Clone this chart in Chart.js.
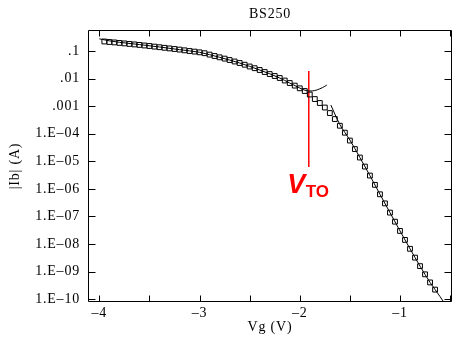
<!DOCTYPE html>
<html>
<head>
<meta charset="utf-8">
<script src="https://cdn.jsdelivr.net/npm/chart.js@4.4.1/dist/chart.umd.min.js"></script>
<style>
  html, body { margin: 0; padding: 0; background: #fff; }
  #wrap { width: 460px; height: 343px; }
</style>
</head>
<body>
<div id="wrap"><canvas id="c" width="460" height="343"></canvas></div>
<script>
// Measured |Ib| of the BS250 versus gate voltage
const gateVoltage = [
  -3.95, -3.90, -3.85, -3.80, -3.75, -3.70, -3.65, -3.60, -3.55, -3.50,
  -3.45, -3.40, -3.35, -3.30, -3.25, -3.20, -3.15, -3.10, -3.05, -3.00,
  -2.95, -2.90, -2.85, -2.80, -2.75, -2.70, -2.65, -2.60, -2.55, -2.50,
  -2.45, -2.40, -2.35, -2.30, -2.25, -2.20, -2.15, -2.10, -2.05, -2.00,
  -1.95, -1.90, -1.85, -1.80, -1.75, -1.70, -1.65, -1.60, -1.55, -1.50,
  -1.45, -1.40, -1.35, -1.30, -1.25, -1.20, -1.15, -1.10, -1.05, -1.00,
  -0.95, -0.90, -0.85, -0.80, -0.75, -0.70, -0.65
];
const drainCurrent = [
  0.2213, 0.2123, 0.2051, 0.1968, 0.1888, 0.1811, 0.1734, 0.1663, 0.1585, 0.1521,
  0.1445, 0.1374, 0.1306, 0.1242, 0.1183, 0.1125, 0.1059, 0.1000, 0.0951, 0.0897,
  0.0832, 0.0740, 0.0659, 0.0590, 0.0530, 0.0471, 0.0416, 0.0367, 0.0318, 0.0274,
  0.0238, 0.0205, 0.0173, 0.0146, 0.0124, 0.0105, 0.00851, 0.00690, 0.00556, 0.00444,
  0.00354, 0.00264, 0.00181, 0.00130, 8.91e-4, 5.62e-4, 3.41e-4, 1.95e-4, 1.09e-4, 5.66e-5,
  2.78e-5, 1.37e-5, 6.44e-6, 3.04e-6, 1.40e-6, 6.37e-7, 2.98e-7, 1.38e-7, 6.46e-8, 2.99e-8,
  1.41e-8, 6.71e-9, 3.21e-9, 1.58e-9, 7.96e-10, 4.05e-10, 2.22e-10
];

// Model curve above threshold
const fitAboveV = [-4.00, -3.90, -3.80, -3.60, -3.40, -3.20, -3.00, -2.80, -2.60, -2.40, -2.20, -2.10, -2.00, -1.95, -1.90, -1.85, -1.80, -1.75, -1.73];
const fitAboveI = [0.277, 0.234, 0.207, 0.171, 0.140, 0.112, 0.0897, 0.0590, 0.0367, 0.0205, 0.0105, 0.00690, 0.00454, 0.00378, 0.00354, 0.00369, 0.00425, 0.00523, 0.00583];

// Model curve in the subthreshold region
const fitBelowV = [-1.69, -1.65, -1.60, -1.50, -1.40, -1.30, -1.20, -1.10, -1.00, -0.90, -0.80, -0.70, -0.60, -0.55];
const fitBelowI = [1.10e-3, 5.18e-4, 2.15e-4, 5.90e-5, 1.37e-5, 3.04e-6, 6.37e-7, 1.38e-7, 2.99e-8, 6.71e-9, 1.58e-9, 4.05e-10, 1.24e-10, 6.6e-11];

// Threshold voltage marker
const vtoVoltage = -1.91;
const vtoSpan = [0.0188, 6.18e-6];

// Axis ticks
const xTickValues = [-4, -3.5, -3, -2.5, -2, -1.5, -1, -0.5];
const xTickLabels = ['\u20134', '', '\u20133', '', '\u20132', '', '\u20131', ''];
const yTickValues = [1e-1, 1e-2, 1e-3, 1e-4, 1e-5, 1e-6, 1e-7, 1e-8, 1e-9, 1e-10];
const yTickLabels = ['.1', '.01', '.001', '1.E\u201304', '1.E\u201305', '1.E\u201306', '1.E\u201307', '1.E\u201308', '1.E\u201309', '1.E\u201310'];

const SERIF = "'Liberation Serif', 'Times New Roman', serif";
const pairs = (xs, ys) => xs.map((v, i) => ({ x: v, y: ys[i] }));

// Slightly wider glyph spacing for the axis texts
const spacing = {
  id: 'spacing',
  beforeUpdate(chart) { chart.ctx.letterSpacing = '0.8px'; },
  beforeDraw(chart) { chart.ctx.letterSpacing = '0.8px'; }
};

// Box frame with inward tick marks on all four sides
const frameTicks = {
  id: 'frameTicks',
  afterDraw(chart) {
    const { ctx, chartArea: a, scales: { x, y } } = chart;
    const L = Math.round(a.left) + 0.5, R = Math.round(a.right) - 0.5;
    const T = Math.round(a.top) + 0.5, B = Math.round(a.bottom) - 0.5;
    ctx.save();
    ctx.strokeStyle = '#000';
    ctx.lineWidth = 1;
    ctx.beginPath();
    ctx.rect(L, T, R - L, B - T);
    x.ticks.forEach(t => {
      const px = Math.round(x.getPixelForValue(t.value)) + 0.5;
      ctx.moveTo(px, B); ctx.lineTo(px, B - 6);
      ctx.moveTo(px, T); ctx.lineTo(px, T + 6);
    });
    y.ticks.forEach(t => {
      const py = Math.round(y.getPixelForValue(t.value)) + 0.5;
      ctx.moveTo(L, py); ctx.lineTo(L + 7, py);
      ctx.moveTo(R, py); ctx.lineTo(R - 7, py);
    });
    ctx.stroke();
    ctx.restore();
  }
};

// "V_TO" annotation next to the threshold marker
const vtoLabel = {
  id: 'vtoLabel',
  afterDatasetsDraw(chart) {
    const { ctx, scales: { x, y } } = chart;
    const px = x.getPixelForValue(vtoVoltage - 0.215);
    const py = y.getPixelForValue(7.0e-7);
    ctx.save();
    ctx.letterSpacing = '0px';
    ctx.fillStyle = '#ff0000';
    ctx.textAlign = 'left';
    ctx.textBaseline = 'alphabetic';
    ctx.font = "italic bold 27px 'Liberation Sans', Arial, sans-serif";
    ctx.fillText('V', px, py);
    const w = ctx.measureText('V').width;
    ctx.font = "bold 17px 'Liberation Sans', Arial, sans-serif";
    ctx.fillText('TO', px + w + 0.5, py + 4);
    ctx.restore();
  }
};

new Chart(document.getElementById('c'), {
  type: 'scatter',
  data: {
    datasets: [
      {
        label: 'measured',
        data: pairs(gateVoltage, drainCurrent),
        showLine: false,
        pointStyle: 'rect',
        pointRadius: 3.4,
        borderColor: '#000',
        borderWidth: 1,
        backgroundColor: 'rgba(0,0,0,0)'
      },
      {
        label: 'model above VTO',
        data: pairs(fitAboveV, fitAboveI),
        showLine: true,
        cubicInterpolationMode: 'monotone',
        pointRadius: 0,
        borderColor: '#000',
        borderWidth: 1
      },
      {
        label: 'model below VTO',
        data: pairs(fitBelowV, fitBelowI),
        showLine: true,
        cubicInterpolationMode: 'monotone',
        pointRadius: 0,
        borderColor: '#000',
        borderWidth: 1,
        clip: 0
      },
      {
        label: 'VTO',
        data: [{ x: vtoVoltage, y: vtoSpan[0] }, { x: vtoVoltage, y: vtoSpan[1] }],
        showLine: true,
        pointRadius: 0,
        borderColor: '#ff0000',
        borderWidth: 1.5
      }
    ]
  },
  options: {
    responsive: false,
    animation: false,
    devicePixelRatio: 1,
    layout: { padding: { left: 0, right: 8, top: 0, bottom: 0 } },
    plugins: {
      legend: { display: false },
      tooltip: { enabled: false },
      title: {
        display: true,
        text: 'BS250',
        fullSize: false,
        color: '#000',
        font: { family: SERIF, size: 14, weight: 'normal', lineHeight: 1.2 },
        padding: { top: 6, bottom: 7.2 }
      }
    },
    scales: {
      x: {
        type: 'linear',
        min: -4.113,
        max: -0.481,
        grid: { display: false, drawTicks: false },
        border: { display: false },
        afterBuildTicks: s => { s.ticks = xTickValues.map(v => ({ value: v })); },
        afterFit: s => { s.height = 41; },
        ticks: {
          autoSkip: false,
          maxRotation: 0,
          padding: 3,
          color: '#000',
          font: { family: SERIF, size: 14 },
          callback: (v, i) => xTickLabels[i]
        },
        title: {
          display: true,
          text: 'Vg (V)',
          color: '#000',
          font: { family: SERIF, size: 14, lineHeight: 1.2 },
          padding: { top: 0, bottom: 7 }
        }
      },
      y: {
        type: 'logarithmic',
        min: 7.9e-11,
        max: 0.578,
        grid: { display: false, drawTicks: false },
        border: { display: false },
        afterBuildTicks: s => { s.ticks = yTickValues.map(v => ({ value: v })); },
        afterFit: s => { s.width = 88; },
        ticks: {
          autoSkip: false,
          padding: 8,
          color: '#000',
          font: { family: SERIF, size: 14 },
          callback: (v, i) => yTickLabels[i]
        },
        title: {
          display: true,
          text: '|Ib| (A)',
          color: '#000',
          font: { family: SERIF, size: 14, lineHeight: 1.2 },
          padding: { top: 7, bottom: 0 }
        }
      }
    }
  },
  plugins: [spacing, frameTicks, vtoLabel]
});
</script>
</body>
</html>
